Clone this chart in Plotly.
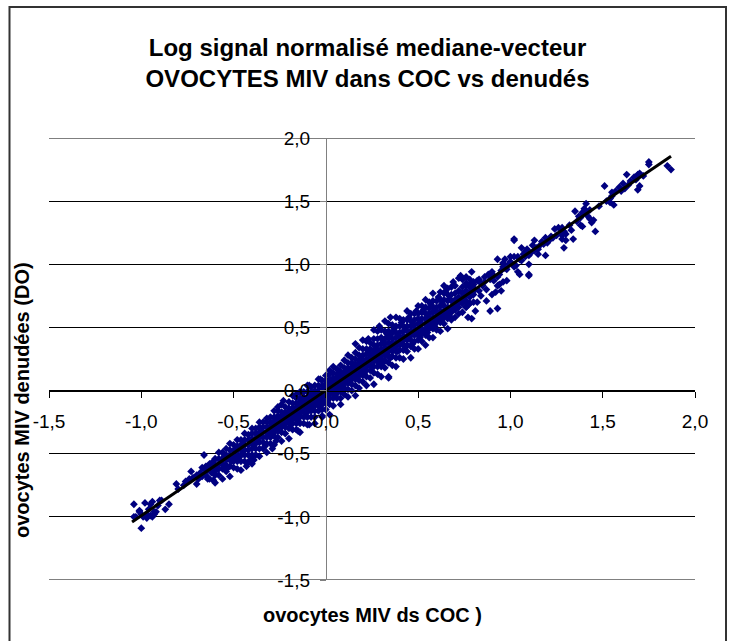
import plotly.graph_objects as go

# ---------------- text ----------------
TITLE = "Log signal normalisé mediane-vecteur<br>OVOCYTES MIV dans COC vs denudés"
X_TITLE = "ovocytes MIV ds COC )"
Y_TITLE = "ovocytes MIV denudées (DO)"

# ---------------- ticks ----------------
tick_vals = [-1.5, -1.0, -0.5, 0.0, 0.5, 1.0, 1.5, 2.0]
tick_text = ["-1,5", "-1,0", "-0,5", "0,0", "0,5", "1,0", "1,5", "2,0"]

# ---------------- trend line ----------------
trend_x = [-1.05, 1.87]
trend_y = [-1.04, 1.855]

# ---------------- points (x = COC, y = DO), read/ ----------------
# sparse low tail
pts_a = [(-1.04,-1.00),(-1.04,-0.90),(-1.03,-1.00),(-1.01,-0.96),(-1.01,-0.95),(-1.00,-1.09),(-1.00,-0.98),
         (-0.99,-1.00),(-0.98,-0.99),(-0.98,-0.89),(-0.97,-0.98),(-0.97,-1.01),(-0.96,-0.94),(-0.95,-0.99),
         (-0.95,-0.90),(-0.94,-1.00),(-0.94,-0.88),(-0.93,-0.98),(-0.93,-0.96),(-0.92,-0.96),(-0.91,-0.91),
         (-0.90,-0.87),(-0.89,-0.87),(-0.87,-0.94),(-0.85,-0.90),
         (-0.81,-0.74),(-0.80,-0.78),(-0.77,-0.75),(-0.76,-0.72),(-0.74,-0.70),(-0.73,-0.64),(-0.72,-0.69),
         (-0.70,-0.74),(-0.70,-0.67),(-0.69,-0.70),(-0.68,-0.65),(-0.67,-0.61),(-0.67,-0.68),(-0.66,-0.62),
         (-0.66,-0.51),(-0.65,-0.67),(-0.65,-0.60),(-0.64,-0.70),(-0.64,-0.63),(-0.63,-0.70),(-0.63,-0.58),
         (-0.62,-0.65),(-0.62,-0.61),(-0.61,-0.71),(-0.61,-0.56),(-0.60,-0.64)]

# columns: (x, [y values])
cols_b = [(-0.60,[-0.73,-0.67,-0.63,-0.59,-0.54]),
          (-0.58,[-0.67,-0.62,-0.58,-0.54,-0.49]),
          (-0.56,[-0.70,-0.62,-0.58,-0.54,-0.49]),
          (-0.54,[-0.64,-0.59,-0.55,-0.51,-0.46]),
          (-0.52,[-0.68,-0.60,-0.55,-0.51,-0.47,-0.42]),
          (-0.50,[-0.61,-0.56,-0.52,-0.48,-0.43]),
          (-0.48,[-0.62,-0.56,-0.52,-0.48,-0.44,-0.39]),
          (-0.46,[-0.63,-0.56,-0.51,-0.47,-0.43,-0.39]),
          (-0.44,[-0.56,-0.51,-0.47,-0.43,-0.39,-0.34]),
          (-0.42,[-0.57,-0.51,-0.47,-0.43,-0.39,-0.35]),
          (-0.40,[-0.58,-0.51,-0.46,-0.42,-0.38,-0.34,-0.30]),
          (-0.38,[-0.51,-0.46,-0.42,-0.38,-0.34,-0.30]),
          (-0.36,[-0.52,-0.46,-0.41,-0.37,-0.33,-0.29,-0.25]),
          (-0.34,[-0.46,-0.41,-0.37,-0.33,-0.29,-0.25]),
          (-0.32,[-0.49,-0.42,-0.37,-0.33,-0.29,-0.25,-0.22])]
pts_b = [(-0.57,-0.57),(-0.55,-0.60),(-0.53,-0.61),(-0.51,-0.56),(-0.49,-0.53),(-0.47,-0.53),(-0.45,-0.42),
         (-0.43,-0.60),(-0.41,-0.55),(-0.39,-0.55),(-0.37,-0.40),(-0.35,-0.36),(-0.33,-0.44),(-0.31,-0.35),
         (-0.29,-0.46),(-0.27,-0.40),(-0.59,-0.60),(-0.55,-0.52),(-0.53,-0.53),(-0.49,-0.46),(-0.45,-0.48),
         (-0.41,-0.40),(-0.39,-0.43),(-0.35,-0.33),(-0.31,-0.30)]

cols_c = [(-0.30,[-0.42,-0.37,-0.34,-0.31,-0.28,-0.25,-0.21]),
          (-0.28,[-0.43,-0.36,-0.33,-0.30,-0.27,-0.24,-0.21,-0.16]),
          (-0.26,[-0.37,-0.32,-0.29,-0.26,-0.23,-0.20,-0.16]),
          (-0.24,[-0.40,-0.33,-0.29,-0.26,-0.23,-0.20,-0.17,-0.11]),
          (-0.22,[-0.34,-0.29,-0.26,-0.23,-0.20,-0.17,-0.13]),
          (-0.20,[-0.38,-0.30,-0.26,-0.23,-0.20,-0.17,-0.14,-0.09]),
          (-0.18,[-0.31,-0.26,-0.23,-0.20,-0.17,-0.14,-0.10,-0.04]),
          (-0.16,[-0.31,-0.26,-0.22,-0.19,-0.16,-0.13,-0.10,-0.06]),
          (-0.14,[-0.33,-0.26,-0.21,-0.18,-0.15,-0.12,-0.09,-0.06,-0.01]),
          (-0.12,[-0.26,-0.21,-0.17,-0.14,-0.11,-0.08,-0.05,-0.01]),
          (-0.10,[-0.27,-0.21,-0.17,-0.14,-0.11,-0.08,-0.05,-0.01,0.04]),
          (-0.08,[-0.21,-0.16,-0.13,-0.10,-0.07,-0.04,-0.01,0.03]),
          (-0.06,[-0.26,-0.21,-0.16,-0.12,-0.09,-0.06,-0.03,0.00,0.04]),
          (-0.04,[-0.16,-0.12,-0.09,-0.06,-0.03,0.00,0.04,0.09]),
          (-0.02,[-0.20,-0.15,-0.11,-0.08,-0.05,-0.02,0.01,0.04,0.08]),
          (0.00,[-0.15,-0.10,-0.07,-0.04,-0.01,0.02,0.05,0.08,0.12]),
          (0.02,[-0.19,-0.11,-0.06,-0.03,0.00,0.03,0.06,0.09,0.13]),
          (0.04,[-0.12,-0.06,-0.02,0.01,0.04,0.07,0.10,0.14,0.19]),
          (0.06,[-0.06,-0.02,0.01,0.04,0.07,0.10,0.13,0.17]),
          (0.08,[-0.11,-0.06,-0.01,0.03,0.06,0.09,0.12,0.15,0.20]),
          (0.10,[-0.03,0.02,0.05,0.08,0.11,0.14,0.18,0.24]),
          (0.12,[-0.05,0.01,0.06,0.09,0.12,0.15,0.18,0.22,0.28]),
          (0.14,[0.00,0.05,0.09,0.12,0.15,0.18,0.22,0.26]),
          (0.16,[-0.04,0.04,0.09,0.12,0.15,0.18,0.21,0.25,0.30,0.37]),
          (0.18,[0.02,0.08,0.12,0.15,0.18,0.21,0.24,0.28,0.34]),
          (0.20,[0.07,0.12,0.15,0.18,0.21,0.24,0.28,0.33,0.40]),
          (0.22,[0.04,0.11,0.16,0.19,0.22,0.25,0.29,0.33,0.39]),
          (0.24,[0.10,0.16,0.20,0.23,0.26,0.29,0.33,0.38]),
          (0.26,[0.05,0.14,0.19,0.23,0.26,0.29,0.32,0.36,0.41,0.48]),
          (0.28,[0.13,0.19,0.23,0.26,0.29,0.32,0.36,0.41,0.47])]
pts_c = [(-0.29,-0.34),(-0.27,-0.30),(-0.25,-0.28),(-0.23,-0.25),(-0.21,-0.24),(-0.19,-0.27),(-0.17,-0.21),
         (-0.15,-0.24),(-0.13,-0.13),(-0.11,-0.20),(-0.09,-0.12),(-0.07,-0.15),(-0.05,-0.08),(-0.03,-0.12),
         (-0.01,-0.03),(0.01,-0.08),(0.03,0.05),(0.05,-0.04),(0.07,0.09),(0.09,0.02),(0.11,0.16),(0.13,0.07),
         (0.15,0.20),(0.17,0.10),(0.19,0.25),(0.21,0.13),(0.23,0.31),(0.25,0.19),(0.27,0.35),(0.29,0.21),
         (-0.15,-0.32),(-0.09,-0.27),(-0.02,-0.21),(-0.26,-0.13),(-0.23,-0.08),(-0.16,-0.03),(-0.09,0.04),
         (-0.03,0.09),(0.02,0.16)]

cols_d = [(0.30,[0.11,0.19,0.24,0.27,0.30,0.33,0.37,0.42,0.48]),
          (0.32,[0.18,0.24,0.28,0.31,0.34,0.37,0.41,0.47,0.55]),
          (0.34,[0.11,0.22,0.27,0.31,0.34,0.38,0.42,0.47,0.53]),
          (0.36,[0.20,0.27,0.31,0.34,0.37,0.41,0.46,0.52]),
          (0.38,[0.19,0.26,0.31,0.35,0.38,0.42,0.46,0.51,0.58]),
          (0.40,[0.26,0.32,0.36,0.39,0.42,0.46,0.51,0.57]),
          (0.42,[0.25,0.32,0.36,0.40,0.43,0.47,0.51,0.56]),
          (0.44,[0.31,0.36,0.40,0.43,0.47,0.51,0.56,0.63]),
          (0.46,[0.26,0.35,0.40,0.44,0.47,0.51,0.55,0.61]),
          (0.48,[0.33,0.39,0.44,0.48,0.52,0.56,0.61]),
          (0.50,[0.33,0.40,0.45,0.49,0.53,0.57,0.61,0.67]),
          (0.52,[0.39,0.45,0.49,0.53,0.57,0.62,0.67]),
          (0.54,[0.36,0.44,0.49,0.53,0.57,0.61,0.66,0.72]),
          (0.56,[0.42,0.49,0.53,0.57,0.61,0.65,0.70]),
          (0.58,[0.42,0.49,0.54,0.58,0.62,0.66,0.71,0.77]),
          (0.60,[0.48,0.54,0.58,0.62,0.66,0.71]),
          (0.62,[0.47,0.54,0.59,0.63,0.67,0.72,0.78]),
          (0.64,[0.53,0.59,0.63,0.67,0.72,0.77]),
          (0.66,[0.49,0.57,0.62,0.66,0.71,0.76,0.81]),
          (0.68,[0.56,0.62,0.66,0.71,0.76,0.82])]
pts_d = [(0.35,0.58),(0.29,0.51),(0.23,0.41),(0.31,0.22),(0.33,0.30),(0.37,0.35),(0.39,0.44),(0.41,0.38),
         (0.43,0.49),(0.45,0.42),(0.47,0.52),(0.49,0.45),(0.51,0.55),(0.53,0.47),(0.55,0.60),(0.57,0.52),
         (0.59,0.63),(0.61,0.57),(0.63,0.69),(0.65,0.61),(0.67,0.73),(0.69,0.65),(0.34,0.10),(0.64,0.83),
         (0.69,0.86),
         (0.31,0.40),(0.33,0.45),(0.35,0.26),(0.37,0.49),(0.39,0.31),(0.41,0.54),(0.43,0.34),(0.45,0.58),
         (0.47,0.37),(0.49,0.63),(0.51,0.42),(0.53,0.64),(0.55,0.46),(0.57,0.68),(0.59,0.51),(0.61,0.74),
         (0.63,0.56),(0.65,0.79),(0.67,0.59),(0.31,0.32),(0.35,0.44),(0.39,0.37),(0.43,0.42),(0.47,0.45),
         (0.51,0.49),(0.55,0.53),(0.59,0.56),(0.63,0.62),(0.67,0.65)]

cols_e = [(0.70,[0.58,0.64,0.68,0.72,0.77,0.83]),
          (0.72,[0.61,0.66,0.70,0.74,0.79]),
          (0.74,[0.62,0.69,0.73,0.77,0.82,0.88]),
          (0.76,[0.66,0.71,0.75,0.79,0.85]),
          (0.78,[0.69,0.74,0.78,0.82,0.88]),
          (0.80,[0.70,0.76,0.80,0.84])]
pts_e = [(0.82,0.87),(0.83,0.88),(0.80,0.86),(0.78,0.84),(0.76,0.83),(0.79,0.94),(0.76,0.90),(0.73,0.91),
         (0.72,0.89),(0.84,0.75),(0.87,0.71),(0.82,0.70),(0.78,0.69),(0.76,0.66),(0.81,0.63),(0.79,0.57),
         (0.77,0.58),(0.89,0.63),(0.93,0.65),(0.85,0.83),(0.87,0.80),(0.90,0.76),(0.92,0.78),(0.95,0.79),
         (0.88,0.92),(0.91,0.87),(0.93,0.83),(0.94,0.84),(0.96,0.86),(0.98,0.87),(0.90,0.90),(0.91,0.91),
         (0.93,0.90),(0.94,0.92),(0.96,0.98),(0.98,0.96),(0.86,0.86),(0.89,0.88),(0.84,0.85),(0.81,0.80),
         (0.83,0.79),(0.86,0.90),(0.90,0.94),(0.93,1.04),(0.97,1.04),(0.97,0.97),(0.99,1.00),(1.00,1.02),
         (1.00,1.06),(1.02,0.98),(1.03,0.99),(1.02,1.06),(1.04,1.06),(1.05,1.04),(1.04,0.94),(1.05,0.92),
         (1.10,0.92),(1.10,0.91),(1.10,1.00),(1.06,1.03),(1.07,1.08),(1.08,1.06),(1.08,1.10),(1.09,1.12),
         (1.10,1.07),(1.11,1.09),(1.13,1.11),(1.12,1.15),(1.14,1.13),(1.15,1.12),(1.15,1.08),(1.16,1.15),
         (1.17,1.18),(1.18,1.16),(1.19,1.07),(1.19,1.21),(1.20,1.17),(1.21,1.19),(1.22,1.22),(1.23,1.21),
         (1.24,1.28),(1.06,1.13),(1.13,1.19),(1.02,1.20),(1.02,1.19),(0.95,0.95),(0.96,1.01)]

pts_f = [(1.25,1.23),(1.26,1.29),(1.27,1.25),(1.28,1.29),(1.28,1.23),(1.28,1.20),(1.29,1.13),(1.29,1.26),
         (1.30,1.19),(1.30,1.24),(1.32,1.31),(1.33,1.27),(1.34,1.20),(1.35,1.42),(1.36,1.34),(1.37,1.38),
         (1.38,1.37),(1.38,1.31),(1.39,1.41),(1.39,1.30),(1.40,1.44),(1.41,1.48),(1.41,1.42),(1.42,1.38),
         (1.43,1.43),(1.43,1.36),(1.44,1.33),(1.45,1.35),(1.46,1.26),(1.48,1.46),(1.51,1.62),(1.52,1.50),
         (1.54,1.52),(1.54,1.49),(1.55,1.57),(1.55,1.54),(1.56,1.47),(1.57,1.58),(1.59,1.61),(1.60,1.58),
         (1.61,1.64),(1.62,1.60),(1.63,1.71),(1.64,1.63),(1.65,1.66),(1.67,1.69),(1.68,1.67),(1.69,1.71),
         (1.69,1.59),(1.70,1.72),(1.70,1.62),(1.72,1.70),(1.75,1.81),(1.75,1.79),(1.85,1.78),(1.87,1.75)]

coc_x, do_y = [], []
for cols in (cols_b, cols_c, cols_d, cols_e):
    for xv, col in cols:
        for yv in col:
            coc_x.append(xv)
            do_y.append(yv)
for pts in (pts_a, pts_b, pts_c, pts_d, pts_e, pts_f):
    for xv, yv in pts:
        coc_x.append(xv)
        do_y.append(yv)

# ---------------- layout geometry ----------------
W, H = 735, 641
ML, MR, MT, MB = 49, 40, 138, 61
PW, PH = W - ML - MR, H - MT - MB
X_RANGE = [-1.5, 2.0]
Y_RANGE = [-1.5, 2.0]
x_zero = (0 - X_RANGE[0]) / (X_RANGE[1] - X_RANGE[0])
y_zero = (0 - Y_RANGE[0]) / (Y_RANGE[1] - Y_RANGE[0])

def px_to_paper_x(px):
    return (px - ML) / PW

def py_to_paper_y(py):
    return (H - MB - py) / PH

FONT = "Arial, 'Liberation Sans', sans-serif"

fig = go.Figure()
fig.add_trace(go.Scatter(
    x=coc_x, y=do_y, mode="markers",
    marker=dict(symbol="diamond", size=6, color="#000080", line=dict(width=0)),
    hoverinfo="skip", showlegend=False))
fig.add_trace(go.Scatter(
    x=trend_x, y=trend_y, mode="lines",
    line=dict(color="black", width=3),
    hoverinfo="skip", showlegend=False))

# gridlines at the two range ends (plotly omits them at the plot edges)
edge_grid = [dict(type="line", xref="paper", yref="y", x0=0, x1=1, y0=v, y1=v,
                  line=dict(color="black", width=1), layer="below")
             for v in (Y_RANGE[0], Y_RANGE[1])]

fig.update_layout(
    width=W, height=H,
    margin=dict(l=ML, r=MR, t=MT, b=MB, pad=0, autoexpand=False),
    paper_bgcolor="white", plot_bgcolor="white",
    font=dict(family=FONT, color="black"),
    showlegend=False,
    title=dict(text=TITLE, x=0.5, xref="container", xanchor="center",
               y=1 - 55.5 / H, yref="container", yanchor="middle",
               font=dict(family=FONT, size=24, weight="bold", color="black")),
    xaxis=dict(range=X_RANGE, tickvals=tick_vals, ticktext=tick_text,
               anchor="free", position=y_zero,
               showline=True, linecolor="black", linewidth=1,
               ticks="outside", ticklen=6, tickcolor="black", tickwidth=1,
               showgrid=False, zeroline=False,
               tickfont=dict(family=FONT, size=19, color="black"),
               ticklabelstandoff=8),
    yaxis=dict(range=Y_RANGE, tickvals=tick_vals, ticktext=tick_text,
               anchor="free", position=x_zero,
               showline=True, linecolor="#808080", linewidth=1,
               ticks="outside", ticklen=6, tickcolor="#808080", tickwidth=1,
               showgrid=True, gridcolor="black", gridwidth=1, zeroline=False,
               tickfont=dict(family=FONT, size=19, color="black"),
               ticklabelstandoff=6),
    annotations=[
        dict(text=X_TITLE, xref="paper", yref="paper",
             x=0.5, y=py_to_paper_y(615), xanchor="center", yanchor="middle",
             showarrow=False, font=dict(family=FONT, size=20, weight="bold", color="black")),
        dict(text=Y_TITLE, xref="paper", yref="paper",
             x=px_to_paper_x(22), y=py_to_paper_y(400), xanchor="center", yanchor="middle",
             textangle=-90, showarrow=False,
             font=dict(family=FONT, size=20, weight="bold", color="black")),
    ],
    shapes=edge_grid + [
        dict(type="rect", xref="paper", yref="paper",
             x0=px_to_paper_x(9.5), x1=px_to_paper_x(726),
             y0=py_to_paper_y(655), y1=py_to_paper_y(7),
             line=dict(color="#333333", width=2), fillcolor="rgba(0,0,0,0)", layer="above"),
    ],
)

fig.write_html("out.html", config={"displayModeBar": False},
               post_script="document.body.style.margin='0';")
